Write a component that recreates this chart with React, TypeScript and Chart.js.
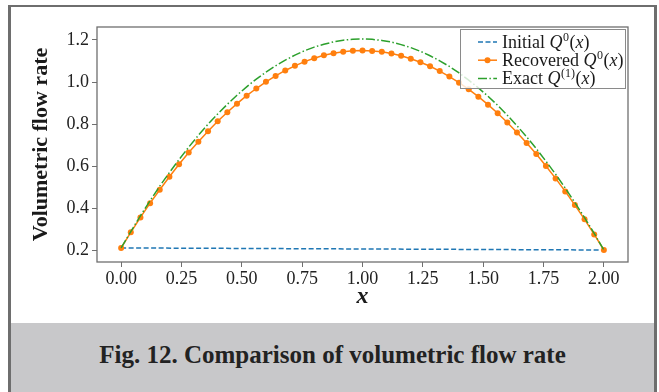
import React, { useEffect, useRef } from "react";
import { Chart, registerables } from "chart.js";

Chart.register(...registerables);

const xValues = [
  0, 0.04, 0.08, 0.12, 0.16, 0.2, 0.24, 0.28, 0.32, 0.36, 0.4, 0.44, 0.48, 0.52, 0.56, 0.6, 0.64,
  0.68, 0.72, 0.76, 0.8, 0.84, 0.88, 0.92, 0.96, 1.0, 1.04, 1.08, 1.12, 1.16, 1.2, 1.24, 1.28,
  1.32, 1.36, 1.4, 1.44, 1.48, 1.52, 1.56, 1.6, 1.64, 1.68, 1.72, 1.76, 1.8, 1.84, 1.88, 1.92,
  1.96, 2.0,
];

const recoveredValues = [
  0.21, 0.284, 0.355, 0.423, 0.487, 0.549, 0.608, 0.664, 0.716, 0.766, 0.813, 0.856, 0.897,
  0.935, 0.969, 1.001, 1.029, 1.055, 1.077, 1.097, 1.113, 1.127, 1.137, 1.144, 1.149, 1.15,
  1.148, 1.144, 1.136, 1.125, 1.111, 1.094, 1.075, 1.052, 1.026, 0.997, 0.965, 0.93, 0.892,
  0.851, 0.807, 0.76, 0.71, 0.657, 0.6, 0.541, 0.479, 0.414, 0.346, 0.274, 0.2,
];

const exactValues = [
  0.21, 0.288, 0.363, 0.435, 0.504, 0.569, 0.631, 0.69, 0.746, 0.799, 0.848, 0.894, 0.937,
  0.977, 1.014, 1.047, 1.077, 1.104, 1.128, 1.149, 1.166, 1.18, 1.191, 1.199, 1.204, 1.205,
  1.203, 1.198, 1.19, 1.178, 1.164, 1.146, 1.125, 1.101, 1.074, 1.043, 1.009, 0.972, 0.932,
  0.889, 0.842, 0.792, 0.739, 0.683, 0.623, 0.561, 0.495, 0.426, 0.354, 0.279, 0.2,
];

const initialX = [0, 2.0];
const initialValues = [0.21, 0.2];

const xTicks = [0, 0.25, 0.5, 0.75, 1.0, 1.25, 1.5, 1.75, 2.0];
const yTicks = [0.2, 0.4, 0.6, 0.8, 1.0, 1.2];

const legendLabels = ["Initial", "Recovered", "Exact"];
const legendSups = ["0", "0", "(1)"];

const SERIF = '"Liberation Serif", "Times New Roman", serif';
const BLUE = "#1f77b4";
const ORANGE = "#ff7f0e";
const GREEN = "#2ca02c";

const boxPlugin = {
  id: "boxPlugin",
  afterDatasetsDraw(chart: any) {
    const { ctx, chartArea } = chart;
    ctx.save();
    ctx.strokeStyle = "#6f6f6f";
    ctx.lineWidth = 1.3;
    ctx.strokeRect(chartArea.left, chartArea.top, chartArea.right - chartArea.left, chartArea.bottom - chartArea.top);
    ctx.restore();
  },
};

const legendPlugin = {
  id: "customLegend",
  afterDraw(chart: any) {
    const { ctx, chartArea } = chart;
    const boxL = chartArea.right - 168;
    const boxT = chartArea.top + 2;
    const boxR = chartArea.right - 2;
    const boxB = chartArea.top + 62;
    ctx.save();
    ctx.fillStyle = "rgba(255,255,255,0.8)";
    ctx.fillRect(boxL, boxT, boxR - boxL, boxB - boxT);
    ctx.strokeStyle = "#8a8a8a";
    ctx.lineWidth = 1;
    ctx.strokeRect(boxL + 0.5, boxT + 0.5, boxR - boxL - 1, boxB - boxT - 1);

    const colors = [BLUE, ORANGE, GREEN];
    const dashes = [[5, 2.5], [], [9, 2.4, 1.5, 2.4]];
    const lineX0 = boxL + 18;
    const lineX1 = boxL + 37;
    const textX = boxL + 42;
    for (let i = 0; i < legendLabels.length; i++) {
      const cy = boxT + 13 + i * 18.2;
      ctx.strokeStyle = colors[i];
      ctx.lineWidth = 1.5;
      ctx.setLineDash(dashes[i]);
      ctx.beginPath();
      ctx.moveTo(lineX0, cy);
      ctx.lineTo(lineX1, cy);
      ctx.stroke();
      ctx.setLineDash([]);
      if (i === 1) {
        ctx.fillStyle = ORANGE;
        ctx.beginPath();
        ctx.arc((lineX0 + lineX1) / 2, cy, 3, 0, Math.PI * 2);
        ctx.fill();
      }
      ctx.fillStyle = "#1a1a1a";
      ctx.textBaseline = "alphabetic";
      ctx.textAlign = "left";
      const base = cy + 6;
      let x = textX;
      ctx.font = `18px ${SERIF}`;
      const t1 = legendLabels[i] + " ";
      ctx.fillText(t1, x, base);
      x += ctx.measureText(t1).width;
      ctx.font = `italic 18px ${SERIF}`;
      ctx.fillText("Q", x, base);
      x += ctx.measureText("Q").width + 0.5;
      ctx.font = `12px ${SERIF}`;
      ctx.fillText(legendSups[i], x, base - 7);
      x += ctx.measureText(legendSups[i]).width + 0.5;
      ctx.font = `18px ${SERIF}`;
      ctx.fillText("(", x, base);
      x += ctx.measureText("(").width;
      ctx.font = `italic 18px ${SERIF}`;
      ctx.fillText("x", x, base);
      x += ctx.measureText("x").width;
      ctx.font = `18px ${SERIF}`;
      ctx.fillText(")", x, base);
    }
    ctx.restore();
  },
};

export default function App() {
  const canvasRef = useRef<HTMLCanvasElement | null>(null);

  useEffect(() => {
    if (!canvasRef.current) return;
    const chart = new Chart(canvasRef.current, {
      type: "line",
      data: {
        datasets: [
          {
            label: "Initial",
            data: initialX.map((x, i) => ({ x, y: initialValues[i] })),
            borderColor: BLUE,
            borderWidth: 1.5,
            borderDash: [5, 2.5],
            pointRadius: 0,
            fill: false,
            order: 3,
          },
          {
            label: "Recovered",
            data: xValues.map((x, i) => ({ x, y: recoveredValues[i] })),
            borderColor: ORANGE,
            backgroundColor: ORANGE,
            borderWidth: 1.5,
            pointRadius: 3,
            pointBorderWidth: 0,
            pointBackgroundColor: ORANGE,
            fill: false,
            order: 2,
          },
          {
            label: "Exact",
            data: xValues.map((x, i) => ({ x, y: exactValues[i] })),
            borderColor: GREEN,
            borderWidth: 1.5,
            borderDash: [9, 2.4, 1.5, 2.4],
            pointRadius: 0,
            fill: false,
            order: 1,
          },
        ],
      },
      options: {
        animation: false,
        responsive: false,
        devicePixelRatio: 1,
        layout: { padding: { left: 0, right: 31, top: 27, bottom: 0 } },
        plugins: { legend: { display: false }, tooltip: { enabled: false } },
        scales: {
          x: {
            type: "linear",
            min: -0.1,
            max: 2.1,
            afterFit: (s: any) => {
              s.height = 61;
            },
            afterBuildTicks: (s: any) => {
              s.ticks = xTicks.map((v) => ({ value: v }));
            },
            ticks: {
              color: "#222",
              font: { family: SERIF, size: 18 },
              padding: 1,
              maxRotation: 0,
              autoSkip: false,
              callback: (v: any) => Number(v).toFixed(2),
            },
            grid: { drawOnChartArea: false, drawTicks: true, tickLength: 5, color: "#6f6f6f" },
            border: { display: false },
            title: {
              display: true,
              text: "x",
              color: "#1a1a1a",
              font: { family: SERIF, size: 24, style: "italic", weight: "bold" },
              padding: { top: 0, bottom: 12 },
            },
          },
          y: {
            type: "linear",
            min: 0.1429,
            max: 1.2619,
            afterFit: (s: any) => {
              s.width = 97;
            },
            afterBuildTicks: (s: any) => {
              s.ticks = yTicks.map((v) => ({ value: v }));
            },
            ticks: {
              color: "#222",
              font: { family: SERIF, size: 18 },
              padding: 3,
              autoSkip: false,
              callback: (v: any) => Number(v).toFixed(1),
            },
            grid: { drawOnChartArea: false, drawTicks: true, tickLength: 5, color: "#6f6f6f" },
            border: { display: false },
            title: {
              display: true,
              text: "Volumetric flow rate",
              color: "#1a1a1a",
              font: { family: SERIF, size: 22, weight: "bold" },
              padding: { top: 28, bottom: 0 },
            },
          },
        },
      },
      plugins: [boxPlugin, legendPlugin],
    } as any);
    return () => chart.destroy();
  }, []);

  return (
    <div style={{ position: "fixed", left: 0, top: 0, width: 659, height: 392, overflow: "hidden", background: "#fff" }}>
      <div
        style={{
          position: "absolute",
          left: 8,
          top: 5,
          width: 649,
          height: 400,
          boxSizing: "border-box",
          borderLeft: "3px solid #6e6e6e",
          borderRight: "3px solid #6e6e6e",
          borderTop: "2px solid #6e6e6e",
        }}
      />
      <div
        style={{
          position: "absolute",
          left: 11,
          top: 323,
          width: 643,
          height: 69,
          background: "#c8c8ca",
          textAlign: "center",
          lineHeight: "64px",
          fontFamily: SERIF,
          fontWeight: "bold",
          fontSize: 25,
          color: "#222",
        }}
      >
        Fig. 12. Comparison of volumetric flow rate
      </div>
      <canvas ref={canvasRef} width={659} height={323} style={{ position: "absolute", left: 0, top: 0, width: 659, height: 323 }} />
    </div>
  );
}
